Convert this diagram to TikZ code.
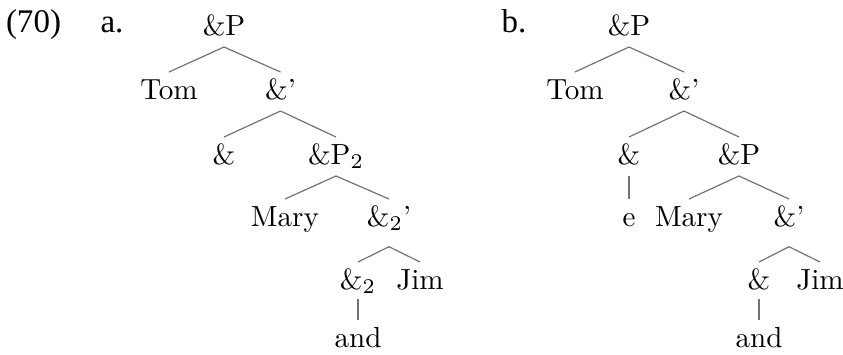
\documentclass[tikz,border=0pt]{standalone}
\usepackage{fontspec}
\newfontfamily\beispielfont{Liberation Serif}
\tikzset{
    knoten/.style={anchor=base, inner sep=0pt, text height=8.8pt, text depth=3.8pt, font=\fontsize{9.7}{11}\selectfont},
    tief/.style={text depth=6.7pt},
    flach/.style={text depth=3pt},
    ast/.style={draw=black!55, line width=0.4pt},
    nummer/.style={anchor=base, inner sep=0pt, font=\beispielfont\fontsize{11}{13}\selectfont},
}
\begin{document}
\begin{tikzpicture}[x=0.3333pt, y=-0.3333pt]
\useasboundingbox (0,0) rectangle (843,354);
% example number and labels
\node[nummer] (nr) at (33.5,32) {(70)};
\node[nummer] (la) at (112,32) {a.};
\node[nummer] (lb) at (514,32) {b.};
% Tree a
\node[knoten] (aP) at (224,35) {\&P};
\node[knoten] (aTom) at (169,99) {Tom};
\node[knoten] (aBar) at (280.5,99) {\&'};
\node[knoten] (aAmp) at (224,164) {\&};
\node[knoten] (aPz) at (336,164) {\&P$_2$};
\node[knoten] (aMary) at (285,226) {Mary};
\node[knoten, tief] (aBarz) at (389,226) {\&$_2$'};
\node[knoten, flach] (aAmpz) at (358,289) {\&$_2$};
\node[knoten] (aJim) at (420,289) {Jim};
\node[knoten] (aand) at (358,347) {and};
% Tree b
\node[knoten] (bP) at (629,35) {\&P};
\node[knoten] (bTom) at (575,99) {Tom};
\node[knoten] (bBar) at (684,99) {\&'};
\node[knoten] (bAmp) at (629,164) {\&};
\node[knoten] (bPz) at (739,164) {\&P};
\node[knoten] (be) at (629,226) {e};
\node[knoten] (bMary) at (689,226) {Mary};
\node[knoten, tief] (bBarz) at (789,226) {\&'};
\node[knoten, flach] (bAmpz) at (759,289) {\&};
\node[knoten] (bJim) at (820,289) {Jim};
\node[knoten] (band) at (759,347) {and};
% branches
\foreach \p/\c in {aP/aTom, aP/aBar, aBar/aAmp, aBar/aPz, aPz/aMary, aPz/aBarz,
    aBarz/aAmpz, aBarz/aJim, aAmpz/aand,
    bP/bTom, bP/bBar, bBar/bAmp, bBar/bPz, bAmp/be, bPz/bMary, bPz/bBarz,
    bBarz/bAmpz, bBarz/bJim, bAmpz/band}
    \draw[ast] (\p.south) -- (\c.north);
\end{tikzpicture}
\end{document}
